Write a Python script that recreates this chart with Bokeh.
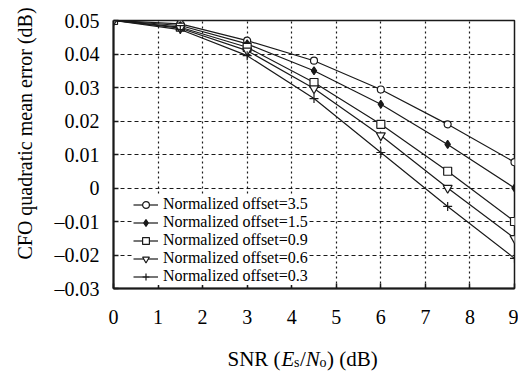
import math
from bokeh.plotting import figure
from bokeh.layouts import row, column
from bokeh.models import Legend, LegendItem, Label, FixedTicker, Range1d
from bokeh.embed import file_html
from bokeh.resources import INLINE

# ---- data ----
snr = [0, 1.5, 3, 4.5, 6, 7.5, 9]
offset_labels = ["Normalized offset=3.5", "Normalized offset=1.5", "Normalized offset=0.9",
                 "Normalized offset=0.6", "Normalized offset=0.3"]
err_35 = [0.05, 0.049, 0.044, 0.038, 0.0294, 0.019, 0.0077]
err_15 = [0.05, 0.0485, 0.043, 0.035, 0.025, 0.013, 0.0]
err_09 = [0.05, 0.048, 0.042, 0.0315, 0.019, 0.005, -0.01]
err_06 = [0.05, 0.0477, 0.041, 0.0297, 0.0157, 0.0, -0.015]
err_03 = [0.05, 0.0473, 0.0395, 0.0267, 0.0106, -0.0055, -0.021]
x_ticks = [0, 1, 2, 3, 4, 5, 6, 7, 8, 9]
y_ticks = [-0.03, -0.02, -0.01, 0, 0.01, 0.02, 0.03, 0.04, 0.05]
y_tick_labels = ["\u20130.03", "\u20130.02", "\u20130.01", "0", "0.01", "0.02", "0.03", "0.04", "0.05"]
y_title = "CFO quadratic mean error (dB)"

FONT = "Liberation Serif"
INK = "#1a1a1a"

LEFT_W = 45
BOTTOM_H = 40
W, H = 518, 373
FRAME_L, FRAME_R = 113, 514  # canvas x of the plot frame

# ---- main plot ----
p = figure(width=W - LEFT_W, height=H - BOTTOM_H, output_backend="svg", toolbar_location=None,
           title=None, x_range=Range1d(0, 9), y_range=Range1d(-0.03, 0.05),
           min_border_left=FRAME_L - LEFT_W, min_border_right=W - FRAME_R, min_border_top=20,
           min_border_bottom=H - BOTTOM_H - 288,
           background_fill_color="white", border_fill_color="white")

p.outline_line_color = INK
p.outline_line_width = 1.5

for ax in (p.xaxis[0], p.yaxis[0]):
    ax.axis_line_color = INK
    ax.axis_line_width = 2
    ax.major_tick_in = 5
    ax.major_tick_out = 0
    ax.minor_tick_in = 0
    ax.minor_tick_out = 0
    ax.major_tick_line_color = INK
    ax.major_tick_line_width = 1.5
    ax.major_label_text_font = FONT
    ax.major_label_text_font_size = "20px"
    ax.major_label_text_color = "black"

p.xaxis.ticker = FixedTicker(ticks=x_ticks)
p.yaxis.ticker = FixedTicker(ticks=y_ticks)
p.xaxis.major_label_overrides = {t: str(t) for t in x_ticks}
p.yaxis.major_label_overrides = dict(zip(y_ticks, y_tick_labels))
p.xaxis.major_label_standoff = 21
p.yaxis.major_label_standoff = 14

p.xgrid.ticker = FixedTicker(ticks=x_ticks)
p.ygrid.ticker = FixedTicker(ticks=y_ticks)
p.xgrid.grid_line_color = INK
p.xgrid.grid_line_width = 1.2
p.xgrid.grid_line_dash = "2 3"
p.ygrid.grid_line_color = INK
p.ygrid.grid_line_width = 1.2
p.ygrid.grid_line_dash = "4 3"

series = [err_35, err_15, err_09, err_06, err_03]
markers = ["circle", "diamond", "square", "inverted_triangle", "cross"]
sizes = [7, 8, 8, 9, 9]
fills = ["white", INK, "white", "white", INK]

items = []
for ys, mk, sz, fc, lab in zip(series, markers, sizes, fills, offset_labels):
    ln = p.line(snr, ys, line_color=INK, line_width=1.2)
    sc = p.scatter(snr, ys, marker=mk, size=sz, line_color=INK, fill_color=fc, line_width=1.2)
    items.append(LegendItem(label=lab, renderers=[ln, sc]))

legend = Legend(items=items, location=(20, 3), orientation="vertical",
                label_text_font=FONT, label_text_font_size="16px", label_text_color="black",
                label_text_line_height=1.0, label_height=17, glyph_height=17, glyph_width=25,
                label_standoff=5, spacing=-1, padding=7, margin=0,
                border_line_color=None, background_fill_color="white", background_fill_alpha=1.0)
p.add_layout(legend, "center")


def blank(w, h, xr, yr):
    f = figure(width=w, height=h, output_backend="svg", toolbar_location=None, title=None,
               x_range=xr, y_range=yr, min_border=0,
               x_axis_location=None, y_axis_location=None,
               background_fill_color="white", border_fill_color="white")
    f.grid.visible = False
    f.outline_line_color = None
    return f


# ---- y axis title ----
pl = blank(LEFT_W, H, Range1d(0, LEFT_W), Range1d(0, H))
pl.add_layout(Label(x=24, y=H - 133, angle=math.pi / 2, text=y_title,
                    text_font=FONT, text_font_size="20px", text_font_style="normal",
                    text_align="center", text_baseline="middle", text_color="black"))

# ---- x axis title: SNR (E_s/N_o) (dB) ----
# frame of this strip is aligned with the main frame, so x is in canvas pixels
pb = blank(W - LEFT_W, BOTTOM_H, Range1d(FRAME_L, FRAME_R), Range1d(0, BOTTOM_H))
base = 15
x0 = 227
pieces = [
    ("SNR (", 0.0, 0, "21px", "normal"),
    ("E", 54.0, 0, "21px", "italic"),
    ("s", 66.6, -4, "14px", "normal"),
    ("/", 72.4, 0, "21px", "normal"),
    ("N", 78.2, 0, "21px", "italic"),
    ("o", 92.0, -4, "14px", "normal"),
    (") (dB)", 99.6, 0, "21px", "normal"),
]
for txt, dx, dy, fs, st in pieces:
    pb.add_layout(Label(x=x0 + dx, y=base + dy, text=txt,
                        text_font=FONT, text_font_size=fs, text_font_style=st,
                        text_align="left", text_baseline="alphabetic", text_color="black"))

layout = row(pl, column(p, pb, spacing=0), spacing=0)
open("out.html", "w").write(file_html(layout, INLINE))
